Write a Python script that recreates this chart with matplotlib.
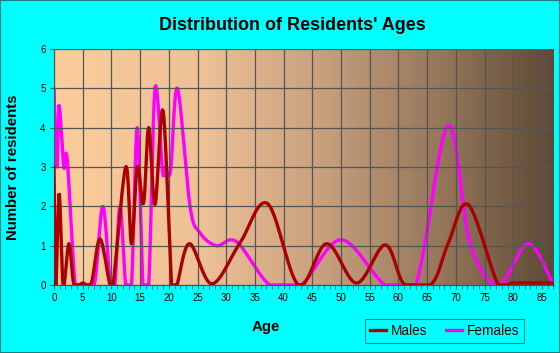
import numpy as np
import matplotlib.pyplot as plt
from matplotlib.colors import LinearSegmentedColormap
from matplotlib.lines import Line2D

# Data (age, number of residents)
male_age = [0, 0.3, 0.9, 1.6, 2.6, 3.5, 5, 6.5, 8.0, 9.75, 10.3, 12.5, 13.5,
            14.5, 15.6, 16.5, 17.6, 19.0, 20.5, 21.4, 23.6, 27.5, 32.4, 37.2,
            42.6, 47.5, 52.7, 57.7, 61.1, 65.8, 68.7, 72.2, 77.4, 80, 87]
male_val = [3.0, 0, 2.3, 0, 1.05, 0, 0.05, 0.05, 1.17, 0, 0, 3.0, 1.05,
            3.0, 2.08, 4.0, 2.05, 4.42, 0, 0, 1.05, 0.03, 1.07, 2.07,
            0, 1.05, 0.05, 1.02, 0, 0.03, 1.07, 2.04, 0, 0.05, 0.05]

female_age = [0, 0.5, 0.9, 1.7, 2.3, 3.7, 5, 7, 8.5, 9.8, 10.6, 11.5, 12.5,
              13.5, 14.5, 15.5, 16.5, 17.6, 18.9, 19.4, 20.3, 21.5, 23.7,
              25.4, 28.3, 31.8, 37.6, 43, 50, 57.7, 63, 68.6, 72.5, 77.4,
              82.6, 87]
female_val = [5.0, 3.0, 4.55, 3.0, 3.2, 0, 0, 0, 2.0, 0, 0, 2.0, 0,
              0, 4.0, 0, 0, 5.0, 2.9, 3.0, 2.9, 5.0, 2.0,
              1.33, 1.0, 1.1, 0, 0, 1.15, 0, 0, 4.05, 1.05, 0,
              1.05, 0]

x_ticks = list(range(0, 90, 5))
y_ticks = list(range(0, 7))


def smooth(xs, ys, steps=30):
    # Catmull-Rom curve through the points, like a "smoothed line" chart
    p = np.column_stack([xs, ys]).astype(float)
    p = np.vstack([p[0], p, p[-1]])
    out = []
    t = np.linspace(0, 1, steps)[:, None]
    for i in range(1, len(p) - 2):
        p0, p1, p2, p3 = p[i - 1], p[i], p[i + 1], p[i + 2]
        seg = 0.5 * ((2 * p1) + (-p0 + p2) * t +
                     (2 * p0 - 5 * p1 + 4 * p2 - p3) * t ** 2 +
                     (-p0 + 3 * p1 - 3 * p2 + p3) * t ** 3)
        out.append(seg)
    out = np.vstack(out)
    return out[:, 0], np.clip(out[:, 1], 0, None)


plt.rcParams['font.family'] = ['Liberation Sans', 'DejaVu Sans']

fig = plt.figure(figsize=(5.6, 3.53), dpi=100, facecolor='#00FFFF')
ax = fig.add_axes([54 / 560, 68 / 353, 500 / 560, 236 / 353])

xmax = 87.1
ymax = 6

# background gradient
cmap = LinearSegmentedColormap.from_list(
    'bg', [(0, '#FCCD9B'), (0.3, '#EDC096'), (0.55, '#C59E7C'),
           (0.8, '#8F7257'), (1, '#5E4A36')])
grad = np.linspace(0, 1, 256)[None, :]
ax.imshow(grad, aspect='auto', cmap=cmap, extent=[0, xmax, 0, ymax],
          zorder=0)

mx, my = smooth(male_age, male_val)
fx, fy = smooth(female_age, female_val)
ax.plot(mx, my, color='#AA0000', lw=2.4, zorder=3, solid_capstyle='round')
ax.plot(fx, fy, color='#FF00FF', lw=2.4, zorder=2, solid_capstyle='round')

ax.set_xlim(0, xmax)
ax.set_ylim(0, ymax)
ax.set_xticks(x_ticks)
ax.set_xticks(range(0, 88), minor=True)
ax.set_yticks(y_ticks)
ax.grid(True, color='#555555', lw=0.9, zorder=1)
ax.set_axisbelow(False)
for s in ['top', 'right']:
    ax.spines[s].set_visible(False)
for s in ['left', 'bottom']:
    ax.spines[s].set_color('#1A6666')
ax.tick_params(axis='both', which='both', direction='out', length=3,
               color='#1A6666', labelsize=7, pad=3)
ax.tick_params(axis='x', which='minor', length=3)

fig.text(292 / 560, 1 - 25 / 353, "Distribution of Residents' Ages",
         ha='center', va='center', fontsize=13, fontweight='bold')
fig.text(13 / 560, 1 - 167 / 353, 'Number of residents', rotation=90,
         ha='center', va='center', fontsize=10.8, fontweight='bold')
fig.text(266 / 560, 1 - 327 / 353, 'Age', ha='center', va='center',
         fontsize=10.8, fontweight='bold')

handles = [Line2D([], [], color='#AA0000', lw=2.4),
           Line2D([], [], color='#FF00FF', lw=2.4)]
leg = fig.legend(handles, ['Males', 'Females'], ncol=2,
                 loc='center', bbox_to_anchor=(444.5 / 560, 1 - 331 / 353),
                 fontsize=9.8, frameon=True, fancybox=False,
                 handlelength=1.2, handletextpad=0.3, columnspacing=1.4,
                 borderpad=0.35)
leg.get_frame().set_edgecolor('#1A6666')
leg.get_frame().set_facecolor('#00FFFF')
leg.get_frame().set_linewidth(0.8)

# thin border around the whole picture
fig.patches.append(plt.Rectangle((0, 0), 1, 1, transform=fig.transFigure,
                                 fill=False, edgecolor='#1A8080', lw=1.5))

fig.savefig('out.png', dpi=100, facecolor=fig.get_facecolor())
